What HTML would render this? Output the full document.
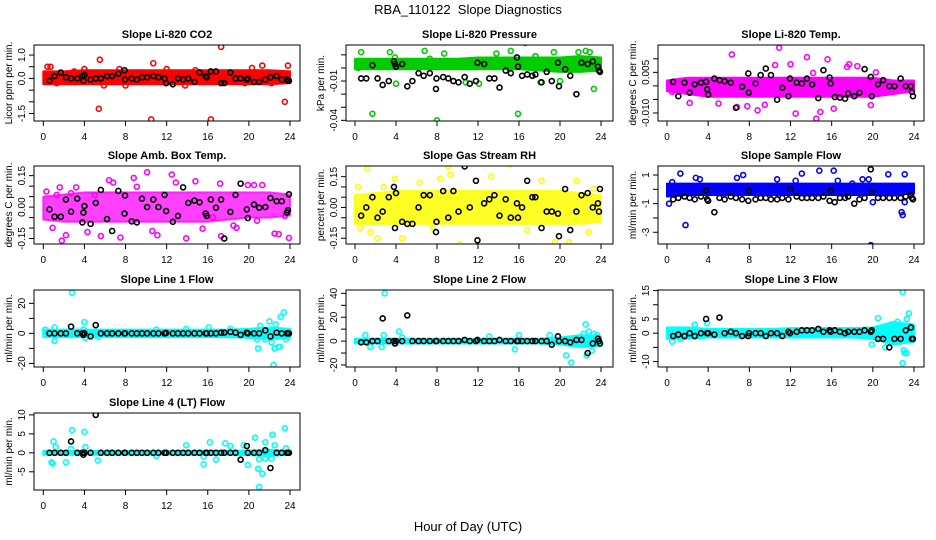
<!DOCTYPE html>
<html><head><meta charset="utf-8"><style>
html,body{margin:0;padding:0;background:#fff}
svg{display:block}
text{font-family:"Liberation Sans",Arial,sans-serif}
</style></head><body>
<svg id="chart" width="936" height="540" viewBox="0 0 936 540" xmlns="http://www.w3.org/2000/svg">
<rect x="0" y="0" width="936" height="540" fill="#fff"/>
<text x="468" y="14" font-size="13" text-anchor="middle" style="white-space:pre">RBA_110122&#160; Slope Diagnostics</text>
<text x="468" y="531" font-size="13" text-anchor="middle">Hour of Day (UTC)</text>
</svg>
<script>
// shared
const xTicks=[0,4,8,12,16,20,24];
const blackHours=[0.6,1.1,1.7,2.2,2.7,3.3,3.8,3.9,4.0,4.6,5.1,5.6,6.2,6.7,7.3,7.9,7.95,8.6,9.1,9.6,10.1,10.7,11.2,11.8,11.95,12.6,13.1,13.6,14.1,14.7,15.2,15.8,15.9,16.3,16.8,17.3,17.6,18.2,18.7,19.2,19.8,19.9,20.5,21.0,21.6,22.1,22.7,23.2,23.7,23.8,23.9];
const bandHours=[0,2,4,6,8,10,12,14,16,18,20,22,24];

// CO2
const co2BandLo=[-0.25,-0.25,-0.25,-0.25,-0.25,-0.25,-0.25,-0.25,-0.25,-0.25,-0.25,-0.25,-0.2];
const co2BandHi=[0.3,0.3,0.35,0.35,0.35,0.35,0.35,0.35,0.35,0.35,0.35,0.35,0.3];
const co2Hours=[0.4,0.7,5.5,5.4,10.5,10.7,16.3,17.3,23.5,23.8,8.0,5.9,4.0,21.3,20.3,14.8,12.0,7.4,3.0,1.3,13.8,22.2,19.6];
const co2Vals=[0.5,0.5,0.8,-1.3,-1.75,0.65,-1.75,1.35,-1.0,0.55,-0.3,-0.3,0.4,0.55,0.45,0.35,0.4,0.4,0.3,-0.2,-0.3,-0.2,-0.2];
const co2Black=[-0.1,0.1,0.25,0.05,0.0,0.0,0.1,-0.1,0.15,-0.05,0.0,0.0,0.1,0.1,0.2,0.35,-0.05,0.0,-0.05,0.05,0.05,0.1,0.05,0.0,-0.2,-0.25,0.0,-0.05,0.0,-0.15,0.25,0.1,0.05,0.3,0.3,-0.2,-0.2,0.25,0.0,0.0,-0.05,0.0,-0.15,-0.15,-0.05,0.05,0.1,-0.05,-0.05,-0.1,-0.1];

// Pressure
const presBandLo=[-0.001,-0.001,-0.001,-0.001,-0.001,-0.001,-0.001,-0.001,-0.001,-0.002,-0.003,-0.003,-0.002];
const presBandHi=[0.007,0.007,0.007,0.007,0.007,0.007,0.008,0.008,0.008,0.008,0.008,0.009,0.008];
const presHours=[0.3,0.6,1.7,3.4,4.0,6.8,8.0,8.7,3.9,13.8,15.2,15.9,16.6,17.6,19.4,21.8,22.5,23.3,23.9,18.1,10.8,12.1,5.8,7.3,20.0,22.9];
const presVals=[0.0,0.012,-0.035,0.012,-0.012,0.013,-0.04,0.011,0.008,0.011,0.013,-0.035,0.019,0.009,0.012,0.012,0.013,-0.016,-0.043,-0.011,-0.011,-0.012,0.005,0.007,-0.01,0.012];
const presBlack=[-0.008,-0.008,0.002,-0.008,-0.013,-0.01,0.005,0.003,0.001,0.003,-0.014,-0.01,-0.004,-0.006,-0.004,-0.016,-0.008,-0.007,-0.008,-0.01,-0.011,-0.007,-0.012,-0.01,0.004,0.003,-0.008,-0.008,-0.015,-0.002,-0.004,0.008,0.001,-0.006,-0.005,-0.006,-0.005,-0.011,-0.003,-0.01,0.004,-0.014,-0.001,-0.006,-0.02,0.004,0.003,0.005,0.001,-0.002,-0.003];

// Li-820 Temp
const tempBandLo=[-0.002,-0.003,-0.004,-0.004,-0.004,-0.004,-0.004,-0.004,-0.004,-0.004,-0.004,-0.003,-0.002];
const tempBandHi=[0.002,0.003,0.003,0.003,0.003,0.003,0.003,0.003,0.003,0.003,0.003,0.002,0.002];
const tempHours=[6.3,10.9,13.6,15.6,17.7,6.8,7.8,12.5,14.5,14.9,8.8,16.2,2.2,0.5,19.8,18.5,14.2,10.5,5.0,12.0,17.5,20.3,9.5];
const tempVals=[0.0116,0.0141,0.0106,0.0098,0.008,-0.0078,-0.0075,-0.0102,-0.0121,-0.0096,-0.009,-0.0084,-0.0063,-0.0022,-0.0071,0.0073,0.0048,0.0077,-0.0065,0.008,0.007,0.005,-0.007];
const tempBlack=[0.0015,-0.0038,0.0012,-0.0025,0.0006,0.0012,0.0015,-0.0012,-0.0032,0.0027,0.0021,0.0017,0.0012,-0.0081,-0.0003,0.0046,-0.0025,0.0009,0.004,0.0064,0.004,-0.0051,-0.0007,-0.0038,0.0027,0.0012,0.0009,0.0027,0.0005,-0.0045,0.0058,0.0031,0.0009,-0.0041,-0.0043,-0.0047,-0.0028,-0.0038,-0.0025,0.0062,0.0033,-0.0038,0.0006,0.0021,-0.0001,-0.0001,0.0027,-0.0001,-0.0001,-0.0022,-0.0038];

// Amb box temp
const ambBandLo=[-0.06,-0.07,-0.07,-0.07,-0.07,-0.07,-0.07,-0.07,-0.07,-0.06,-0.05,-0.05,-0.04];
const ambBandHi=[0.05,0.06,0.07,0.07,0.07,0.07,0.07,0.07,0.07,0.07,0.07,0.07,0.06];
const ambHours=[0.3,1.6,1.8,2.2,3.2,0.9,4.3,5.6,6.4,6.8,7.5,8.8,10.1,10.6,11.1,12.5,12.9,13.9,14.8,16.5,17.3,18.5,18.8,17.2,19.9,20.5,21.3,22.5,23.9,22.9,23.5,2.7,5.0,9.1,15.5,20.8,1.3];
const ambVals=[0.074,0.094,-0.16,-0.134,0.094,-0.099,-0.119,-0.138,0.128,0.117,-0.145,0.139,0.166,-0.114,-0.134,0.155,0.117,-0.149,0.123,-0.049,-0.138,-0.088,-0.099,0.112,0.105,0.105,0.105,-0.126,-0.147,-0.129,-0.042,0.066,0.058,0.097,-0.103,-0.065,0.058];
const ambBlack=[-0.011,-0.046,-0.046,0.036,-0.022,0.04,-0.073,-0.026,0.005,-0.08,0.02,0.082,-0.057,-0.114,0.077,-0.031,0.055,-0.068,-0.073,0.04,0.0,0.036,0.0,0.058,-0.019,-0.07,-0.042,0.094,0.02,0.031,0.023,-0.031,-0.042,0.036,-0.003,0.036,-0.15,-0.023,0.058,0.112,-0.011,-0.052,0.012,-0.003,0.0,0.043,0.028,0.028,-0.026,-0.015,0.061];

// Gas stream RH
const rhBandLo=[-0.08,-0.08,-0.08,-0.08,-0.08,-0.08,-0.08,-0.08,-0.08,-0.08,-0.08,-0.08,-0.07];
const rhBandHi=[0.06,0.07,0.08,0.08,0.08,0.08,0.08,0.08,0.08,0.08,0.08,0.07,0.06];
const rhHours=[0.3,1.2,1.5,2.2,3.9,4.6,6.3,7.6,8.3,9.1,9.3,10.2,11.1,12.6,13.3,14.0,15.1,15.2,16.8,18.2,19.5,20.9,21.6,21.8,22.8,23.3,0.5,2.8];
const rhVals=[0.1,0.19,-0.12,-0.15,0.14,-0.15,0.12,-0.1,0.14,0.2,0.16,-0.18,-0.2,-0.2,0.15,-0.2,0.21,-0.22,-0.11,0.13,-0.17,-0.17,0.13,-0.2,-0.12,0.09,-0.1,0.1];
const rhBlack=[-0.04,0.0,0.05,-0.05,-0.02,0.05,0.1,-0.1,0.07,-0.07,-0.08,-0.08,0.0,0.06,0.06,-0.12,-0.07,0.08,-0.05,0.08,-0.02,0.2,0.0,0.13,-0.16,0.02,0.04,0.06,-0.04,0.04,-0.05,0.02,-0.05,0.0,0.13,0.05,0.05,-0.1,-0.02,-0.02,-0.03,-0.14,0.09,-0.11,-0.02,0.06,0.07,0.0,0.02,-0.02,0.09];

// Sample flow
const sfBandLo=[-0.5,-0.4,-0.4,-0.4,-0.4,-0.4,-0.4,-0.4,-0.4,-0.4,-0.4,-0.4,-0.3];
const sfBandHi=[0.4,0.4,0.4,0.4,0.4,0.4,0.4,0.4,0.4,0.4,0.4,0.4,0.4];
const sfHours=[0.2,1.3,1.8,2.8,3.2,7.4,6.8,13.1,14.8,16.2,16.6,19.0,19.6,19.8,20.0,21.5,23.1,22.8,22.9,23.1,18.0,10.7,12.5,0.5];
const sfVals=[-1.0,1.1,-2.5,0.8,0.7,1.0,0.8,1.1,1.3,1.3,0.6,0.7,0.7,-3.9,-0.9,1.05,1.05,-1.6,-1.8,-0.9,0.4,0.7,0.6,0.5];
const sfBlack=[-0.7,-0.6,-0.5,-0.6,-0.7,-0.5,-0.1,-0.7,-0.8,-1.6,-0.6,-0.7,-0.5,-0.6,-0.7,-0.8,-0.1,-0.7,-0.6,-0.6,-0.7,-0.7,-0.6,-0.7,0.0,-0.5,-0.6,-0.6,-0.6,-0.6,-0.5,-0.8,-0.1,-0.9,-0.6,-0.6,-0.5,-1.0,-0.7,-0.6,1.4,-0.2,-0.6,-0.6,-0.6,-0.6,-0.6,-0.5,-0.4,-0.6,-0.7];

// Line 1 flow
const l1BandLo=[-2.5,-2.5,-2.5,-2.5,-2.5,-2.5,-2.5,-2.5,-2.5,-2.5,-3,-4,-3];
const l1BandHi=[2.5,2.5,2.5,2.5,2.5,2.5,2.5,2.5,2.5,2.5,3,4,3];
const l1Hours=[2.8,4.0,1.1,1.1,3.9,20.9,21.1,20.8,21.6,22.0,22.2,22.4,22.5,22.9,23.1,23.4,23.6,22.6,13.9,16.1,18.2,11.0,0.2,23.0,4.1,5.3];
const l1Vals=[27,7.5,-5,4,2.5,-10,5,-4,-4,8,-6,-21,-10,-9,11,14,-4,6,3,4,3,2.5,2.5,-9,-3,-2.5];
const l1Black=[0,0,0,0,4.5,0,0,-1,0,-2,5.5,0,0,0,0,0,0,0,0,0,0,0,0,0,0.3,0,0,0,0,0,0,0,0,0,0,0.5,0.5,1,0.5,-1,0.5,0,0,0,2,-2,0.5,0,0,0,0];

// Line 2 flow
const l2BandLo=[-2,-2,-2,-2,-2,-2,-2,-2,-2,-2,-3,-5,-4];
const l2BandHi=[2,2,2,2,2,2,2,2,2,2,3,5,4];
const l2Hours=[2.9,1.5,1.0,2.6,2.8,4.3,4.6,15.6,13.1,16.0,20.6,21.1,22.3,22.5,22.8,23.1,22.6,23.6,23.3,19.0,21.5];
const l2Vals=[40,-5,5,-5,5,8,3,-7,4,5,-12,-18,6,14,8,-8,-12,5,6,5,-2];
const l2Black=[-1,-1,0,0,19,0,0,-2,0,0,21.5,0,0,0,0,0,0,0,0,0,0,1,0,0,1,0,0,0,1,0,0,0,0,0,0,0,0,0,0,-3,4,0,0,-1,1,1,-10,-2,2,0,-2];

// Line 3 flow
const l3BandLo=[-2,-2,-1.5,-1.5,-1.5,-1.5,-1.5,-1.5,-1.5,-1.5,-2,-4,-3];
const l3BandHi=[2,2,1.5,1.5,1.5,1.5,1.8,1.8,1.8,1.8,2,4,3];
const l3Hours=[3.9,0.5,2.7,1.3,19.9,20.5,21.2,22.9,22.9,23.1,23.3,23.3,23.5,22.4,21.5,22.6,23.0];
const l3Vals=[3.5,-3,3,-2,-4,5.3,-5,14.5,-10.5,-7,-7,5,7,4,-2,-3,-6];
const l3Black=[-1,-0.5,-1,0,-1,0,5,0,0,-0.5,5.5,0,0.5,0,-1,-1,0,0,0,-1,0,0,-1,0.5,0,0.5,1,1,1,1.5,0.5,1,0.5,1,0.5,0,0.5,0.5,0.5,1,0.5,1,-2,-2,-5,-2,-2,1,2,-2,-2];

// Line 4 flow
const l4BandLo=[-0.5,-0.5,-0.5,-0.5,-0.5,-0.5,-0.5,-0.5,-0.5,-0.5,-0.6,-0.8,-0.5];
const l4BandHi=[0.5,0.5,0.5,0.5,0.5,0.5,0.5,0.5,0.5,0.5,0.6,0.8,0.5];
const l4Hours=[0.8,0.9,1.0,1.2,2.2,2.8,2.7,4.0,4.1,5.3,15.6,15.6,13.9,16.2,16.8,17.7,18.2,19.9,20.6,20.9,21.0,21.3,21.0,21.6,21.6,22.2,22.3,22.5,23.5,23.6,19.5,11.0];
const l4Vals=[-2.5,-2.8,3,1.5,-2.5,6,1,5.5,1.5,-2,-3,-1,2,2.8,-1.8,2.5,1.8,-3.2,4,-4.2,-1.7,-5.5,-9,2.8,-1.5,-1.5,4.8,2,6.5,1.2,2,-0.8];
const l4Black=[0,0,0,0,3,0,0,-0.5,0,0,10,0,0,0,0,0,0,0,0,0,0,0,0,0,0,0,0,0,0,0,0,0,0,0,0,0,0,0,0,-1.8,1.8,0,0,0,0.7,-4,0,0,0,0,0];

const yTicksCo2=[1.0,0.5,0,-0.5,-1.0,-1.5], yLabCo2=["1.0","","0.0","","","-1.5"];
const yTicksPres=[0.01,0,-0.01,-0.02,-0.03,-0.04], yLabPres=["","","-0.01","","","-0.04"];
const yTicksTemp=[0.01,0.005,0,-0.005,-0.01], yLabTemp=["","0.005","","","-0.010"];
const yTicksAmb=[0.15,0.1,0.05,0,-0.05,-0.1,-0.15], yLabAmb=["0.15","","","0.00","","","-0.15"];
const yTicksRh=[0.15,0.1,0.05,0,-0.05,-0.1,-0.15], yLabRh=["0.15","","","0.00","","","-0.15"];
const yTicksSf=[1,0,-1,-2,-3], yLabSf=["1","","-1","","-3"];
const yTicksL1=[20,10,0,-10,-20], yLabL1=["20","","0","","-20"];
const yTicksL2=[40,30,20,10,0,-10,-20], yLabL2=["40","","20","","0","","-20"];
const yTicksL3=[15,10,5,0,-5,-10], yLabL3=["15","","5","0","","-10"];
const yTicksL4=[10,5,0,-5], yLabL4=["10","5","0","-5"];

const colL=[34,346,658], colR=[300,613,924], colX0=[43.3,355,667], colX24=[290,601,914];
const rowT=[45,166,290,413], rowB=[121,244,367,490];

const panels=[
 {key:'co2',title:'Slope Li-820 CO2',ylab:'Licor ppm per min.',c:0,r:0,col:'#ff0000',op:1,dom:[-1.82,1.43],yt:yTicksCo2,yl:yLabCo2,bl:co2BandLo,bh:co2BandHi,ph:co2Hours,pv:co2Vals,bk:co2Black},
 {key:'pressure',title:'Slope Li-820 Pressure',ylab:'kPa per min.',c:1,r:0,col:'#00cc00',op:1,dom:[-0.0405,0.0175],yt:yTicksPres,yl:yLabPres,bl:presBandLo,bh:presBandHi,ph:presHours,pv:presVals,bk:presBlack},
 {key:'li820-temp',title:'Slope Li-820 Temp.',ylab:'degrees C per min.',c:2,r:0,col:'#ff00ff',op:1,dom:[-0.01296,0.0151],yt:yTicksTemp,yl:yLabTemp,bl:tempBandLo,bh:tempBandHi,ph:tempHours,pv:tempVals,bk:tempBlack},
 {key:'amb-box-temp',title:'Slope Amb. Box Temp.',ylab:'degrees C per min.',c:0,r:1,col:'#ff00ff',op:0.75,dom:[-0.176,0.196],yt:yTicksAmb,yl:yLabAmb,bl:ambBandLo,bh:ambBandHi,ph:ambHours,pv:ambVals,bk:ambBlack},
 {key:'gas-stream-rh',title:'Slope Gas Stream RH',ylab:'percent per min.',c:1,r:1,col:'#ffff00',op:0.85,dom:[-0.178,0.202],yt:yTicksRh,yl:yLabRh,bl:rhBandLo,bh:rhBandHi,ph:rhHours,pv:rhVals,bk:rhBlack},
 {key:'sample-flow',title:'Slope Sample Flow',ylab:'ml/min per min.',c:2,r:1,col:'#0000ff',op:1,dom:[-3.82,1.63],yt:yTicksSf,yl:yLabSf,bl:sfBandLo,bh:sfBandHi,ph:sfHours,pv:sfVals,bk:sfBlack},
 {key:'line1-flow',title:'Slope Line 1 Flow',ylab:'ml/min per min.',c:0,r:2,col:'#00ffff',op:1,dom:[-22.4,28.9],yt:yTicksL1,yl:yLabL1,bl:l1BandLo,bh:l1BandHi,ph:l1Hours,pv:l1Vals,bk:l1Black},
 {key:'line2-flow',title:'Slope Line 2 Flow',ylab:'ml/min per min.',c:1,r:2,col:'#00ffff',op:1,dom:[-21.7,42.8],yt:yTicksL2,yl:yLabL2,bl:l2BandLo,bh:l2BandHi,ph:l2Hours,pv:l2Vals,bk:l2Black},
 {key:'line3-flow',title:'Slope Line 3 Flow',ylab:'ml/min per min.',c:2,r:2,col:'#00ffff',op:1,dom:[-11.9,15.2],yt:yTicksL3,yl:yLabL3,bl:l3BandLo,bh:l3BandHi,ph:l3Hours,pv:l3Vals,bk:l3Black},
 {key:'line4-flow',title:'Slope Line 4 (LT) Flow',ylab:'ml/min per min.',c:0,r:3,col:'#00ffff',op:1,dom:[-9.8,10.5],yt:yTicksL4,yl:yLabL4,bl:l4BandLo,bh:l4BandHi,ph:l4Hours,pv:l4Vals,bk:l4Black}
];

const NS='http://www.w3.org/2000/svg';
const svg=document.getElementById('chart');
function mk(tag,attrs,parent){const e=document.createElementNS(NS,tag);for(const k in attrs)e.setAttribute(k,attrs[k]);parent.appendChild(e);return e;}

panels.forEach(p=>{
 const L=colL[p.c],R=colR[p.c],T=rowT[p.r],B=rowB[p.r];
 const xS=h=>colX0[p.c]+(colX24[p.c]-colX0[p.c])*h/24;
 const yS=v=>B-(v-p.dom[0])/(p.dom[1]-p.dom[0])*(B-T);
 const g=mk('g',{},svg);
 
 
 const t=mk('text',{x:(L+R)/2,y:T-7,'font-size':11,'font-weight':'bold','text-anchor':'middle'},g);
 t.textContent=p.title;
 
 
 const yl=mk('text',{x:0,y:0,'font-size':10,'text-anchor':'middle',transform:`translate(${L-22},${(T+B)/2}) rotate(-90)`},g);
 yl.textContent=p.ylab;
 
 
 const clip=mk('clipPath',{id:'clip-'+p.key},g);
 mk('rect',{x:L,y:T,width:R-L,height:B-T},clip);
 const pg=mk('g',{'clip-path':`url(#clip-${p.key})`},g);
 
 
 let pts=bandHours.map((h,i)=>`${xS(h)},${yS(p.bh[i])}`);
 pts=pts.concat(bandHours.map((h,i)=>`${xS(h)},${yS(p.bl[i])}`).reverse());
 const band=mk('polygon',{points:pts.join(' '),fill:p.col,'fill-opacity':p.op,stroke:p.col,'stroke-opacity':p.op,'stroke-width':2,'stroke-linejoin':'round'},pg);
 
 
 p.ph.forEach((h,i)=>{
  const c=mk('circle',{cx:xS(h),cy:yS(p.pv[i]),r:2.5,fill:'none',stroke:p.col,'stroke-width':1.6},pg);
  
  
 });
 blackHours.forEach((h,i)=>{
  const c=mk('circle',{cx:xS(h),cy:yS(p.bk[i]),r:2.5,fill:'none',stroke:'#000','stroke-width':1.6},pg);
  
  
 });
 const box=mk('rect',{x:L,y:T,width:R-L,height:B-T,fill:'none',stroke:'#000','stroke-width':1},g);
 
 
 xTicks.forEach(h=>{
  const x=xS(h);
  mk('line',{x1:x,x2:x,y1:B,y2:B+5,stroke:'#000'},g);
  const tl=mk('text',{x:x,y:B+19,'font-size':10,'text-anchor':'middle'},g);
  tl.textContent=String(h);
  
  
 });
 const ys=p.yt.map(yS);
 mk('line',{x1:L,x2:L,y1:Math.min(...ys),y2:Math.max(...ys),stroke:'#000'},g);
 p.yt.forEach((v,i)=>{
  const y=yS(v);
  mk('line',{x1:L-5,x2:L,y1:y,y2:y,stroke:'#000'},g);
  if(p.yl[i]){
   const tl=mk('text',{x:0,y:0,'font-size':10,'text-anchor':'middle',transform:`translate(${L-9},${y}) rotate(-90)`},g);
   tl.textContent=p.yl[i];
   
   
  }
 });
});
</script>
</body></html>
